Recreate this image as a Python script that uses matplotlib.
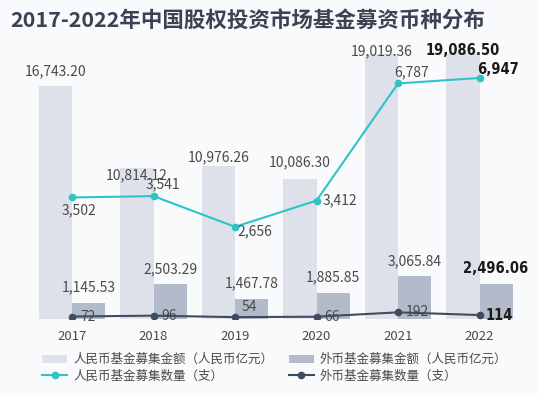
import matplotlib
matplotlib.use("Agg")
import matplotlib.pyplot as plt
import numpy as np

plt.rcParams['font.family'] = ['Noto Sans CJK SC', 'DejaVu Sans']

# data
years = ['2017', '2018', '2019', '2020', '2021', '2022']
rmb_amount = [16743.20, 10814.12, 10976.26, 10086.30, 19019.36, 19086.50]
fx_amount = [1145.53, 2503.29, 1467.78, 1885.85, 3065.84, 2496.06]
rmb_count = [3502, 3541, 2656, 3412, 6787, 6947]
fx_count = [72, 96, 54, 66, 192, 114]

title = '2017-2022年中国股权投资市场基金募资币种分布'
legend_labels = ['人民币基金募集金额（人民币亿元）', '人民币基金募集数量（支）',
                 '外币基金募集金额（人民币亿元）', '外币基金募集数量（支）']

c_rmb_bar = '#dfe1ea'
c_fx_bar = '#b3bbca'
c_rmb_line = '#2ec4c6'
c_fx_line = '#3f4b5e'
c_text = '#4a4a4a'
bg = '#f9fafb'

fig = plt.figure(figsize=(5.38, 3.95), dpi=100, facecolor=bg)
ax = fig.add_axes([0, 76 / 395, 1, 279 / 395])
ax.set_facecolor(bg)
ax2 = ax.twinx()

x = np.arange(len(years))
w = 0.405
b1 = ax.bar(x - w / 2, rmb_amount, w, color=c_rmb_bar, zorder=1)
b2 = ax.bar(x + w / 2, fx_amount, w, color=c_fx_bar, zorder=1)
l1, = ax2.plot(x, rmb_count, color=c_rmb_line, lw=1.5, marker='o', ms=4.5, zorder=3)
l2, = ax2.plot(x, fx_count, color=c_fx_line, lw=1.5, marker='o', ms=4.5, zorder=3)

ax.set_xlim(-72 / 81.5, 466 / 81.5)
ax.set_ylim(0, 20040)
ax2.set_ylim(0, 8040)

for a in (ax, ax2):
    for s in a.spines.values():
        s.set_visible(False)
    a.set_yticks([])
ax.set_xticks(x)
ax.set_xticklabels(years, fontsize=9.5, color=c_text)
ax.tick_params(axis='x', length=0, pad=8)

bold_kw = dict(family=['DejaVu Sans'], fontstretch='condensed', fontweight='bold',
               fontsize=10.5, color='#1a1a1a')
norm_kw = dict(fontsize=10, color=c_text)

def label(axis, xv, yv, txt, dx, dy, last):
    kw = bold_kw if last else norm_kw
    axis.annotate(txt, (xv, yv), xytext=(dx, dy), textcoords='offset points',
                  ha='center', va='center', zorder=5, **kw)

rmb_bar_off = [(0, 10.8), (0, -5), (0, 6.5), (0, 11.5), (0, 2), (0, 2)]
rmb_line_off = [(5, -9.4), (6.5, 8.6), (14.4, -3), (17, 0), (10, 8), (13, 5.8)]
fx_line_off = [(11.5, 0), (11.5, 0), (10, 7), (11.5, 0), (13.7, 0), (14.4, 0)]

n = len(years)
for i in range(n):
    last = i == n - 1
    label(ax, x[i] - w / 2, rmb_amount[i], f'{rmb_amount[i]:,.2f}', *rmb_bar_off[i], last)
    label(ax, x[i] + w / 2, fx_amount[i], f'{fx_amount[i]:,.2f}', 0, 11, last)
    label(ax2, x[i], rmb_count[i], f'{rmb_count[i]:,}', *rmb_line_off[i], last)
    label(ax2, x[i], fx_count[i], f'{fx_count[i]:,}', *fx_line_off[i], last)

fig.text(0.019, 0.949, title, fontsize=15.5, fontweight='bold', color='#3b4252',
         ha='left', va='center')

fig.legend([b1, l1, b2, l2], legend_labels, ncol=2, loc='upper left',
           bbox_to_anchor=(36 / 538, 1 - 347 / 395), frameon=False,
           fontsize=9, handlelength=2.0, handletextpad=0.5, labelspacing=0.25,
           columnspacing=1.2, borderpad=0, labelcolor=c_text)

fig.savefig('out.png', dpi=100, facecolor=bg)
